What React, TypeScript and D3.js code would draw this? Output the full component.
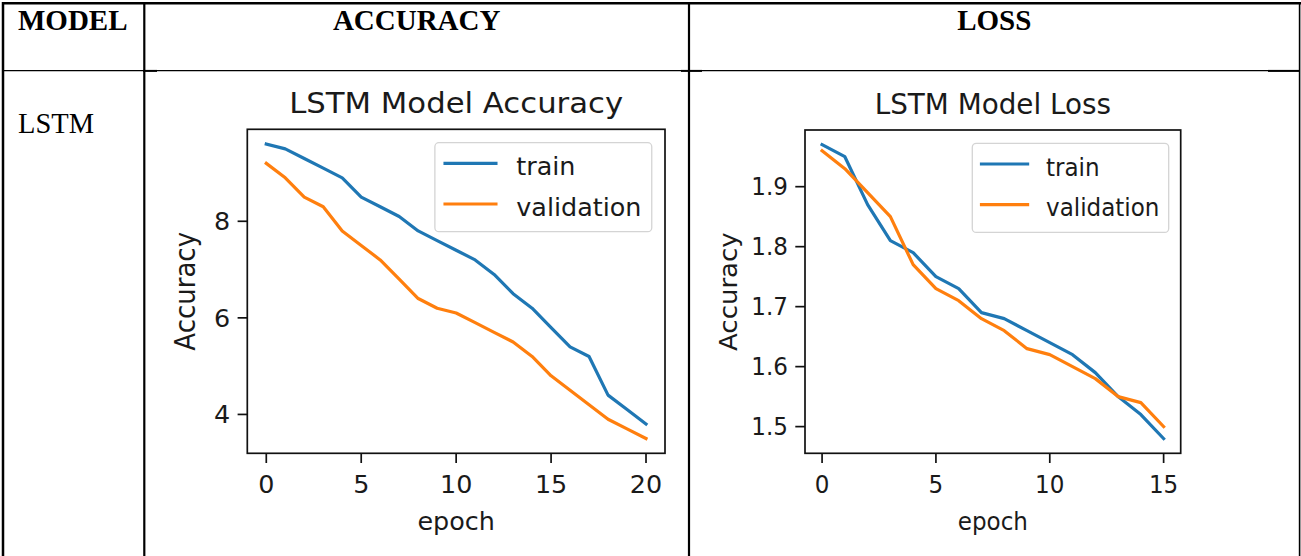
import React, { useEffect, useRef } from "react";
import * as d3 from "d3";

// table text
const headers = ["MODEL", "ACCURACY", "LOSS"];
const modelName = "LSTM";

// accuracy per epoch (index = epoch)
const accTrain = [9.6, 9.5, 9.3, 9.1, 8.9, 8.5, 8.3, 8.1, 7.8, 7.6, 7.4, 7.2, 6.9, 6.5, 6.2, 5.8, 5.4, 5.2, 4.4, 4.1, 3.8];
const accValidation = [9.2, 8.9, 8.5, 8.3, 7.8, 7.5, 7.2, 6.8, 6.4, 6.2, 6.1, 5.9, 5.7, 5.5, 5.2, 4.8, 4.5, 4.2, 3.9, 3.7, 3.5];

// loss per epoch
const lossTrain = [1.97, 1.95, 1.87, 1.81, 1.79, 1.75, 1.73, 1.69, 1.68, 1.66, 1.64, 1.62, 1.59, 1.55, 1.52, 1.48];
const lossValidation = [1.96, 1.93, 1.89, 1.85, 1.77, 1.73, 1.71, 1.68, 1.66, 1.63, 1.62, 1.6, 1.58, 1.55, 1.54, 1.5];

const accXTicks = [0, 5, 10, 15, 20];
const accYTicks = [4, 6, 8];
const lossXTicks = [0, 5, 10, 15];
const lossYTicks = [1.5, 1.6, 1.7, 1.8, 1.9];

const legendLabels = ["train", "validation"];
const seriesColors = ["#1f77b4", "#ff7f0e"];

const W = 1301;
const H = 556;
const FS = 24; // matplotlib "medium" text, in px
const TEXT = "#1a1a1a";

type Box = { left: number; right: number; top: number; bottom: number };
type Plot = {
  title: string;
  xlabel: string;
  ylabel: string;
  series: number[][];
  xTicks: number[];
  yTicks: number[];
  yFmt: (v: number) => string;
  box: Box;
  sx: number; // each picture was pasted with its own horizontal stretch
  ylabelOffset: number;
};

const plots: Plot[] = [
  {
    title: "LSTM Model Accuracy",
    xlabel: "epoch",
    ylabel: "Accuracy",
    series: [accTrain, accValidation],
    xTicks: accXTicks,
    yTicks: accYTicks,
    yFmt: d3.format("d"),
    box: { left: 247.3, right: 665, top: 129.3, bottom: 453.3 },
    sx: 1.06,
    ylabelOffset: 52
  },
  {
    title: "LSTM Model Loss",
    xlabel: "epoch",
    ylabel: "Accuracy",
    series: [lossTrain, lossValidation],
    xTicks: lossXTicks,
    yTicks: lossYTicks,
    yFmt: d3.format(".1f"),
    box: { left: 805, right: 1180.7, top: 130, bottom: 453.3 },
    sx: 0.96,
    ylabelOffset: 68
  }
];

function addText(g: any, x: number, y: number, s: string, size: number, anchor: string, sx: number, rotate = false) {
  return g
    .append("text")
    .attr("transform", `translate(${x},${y}) scale(${sx},1)${rotate ? " rotate(-90)" : ""}`)
    .attr("text-anchor", anchor)
    .attr("font-family", "'DejaVu Sans', sans-serif")
    .attr("font-size", size)
    .attr("fill", TEXT)
    .text(s);
}

function drawPlot(svg: any, p: Plot) {
  const g = svg.append("g");
  const { box, sx } = p;
  const n = p.series[0].length - 1;

  const x = d3
    .scaleLinear()
    .domain([-0.05 * n, n * 1.05])
    .range([box.left, box.right]);

  const [lo, hi] = d3.extent(p.series.flat()) as [number, number];
  const pad = (hi - lo) * 0.05;
  const y = d3
    .scaleLinear()
    .domain([lo - pad, hi + pad])
    .range([box.bottom, box.top]);

  // lines
  const line = d3
    .line<number>()
    .x((d, i) => x(i))
    .y(d => y(d));

  p.series.forEach((s, i) => {
    g.append("path")
      .datum(s)
      .attr("d", line)
      .attr("fill", "none")
      .attr("stroke", seriesColors[i])
      .attr("stroke-width", 3.2)
      .attr("stroke-linejoin", "round")
      .attr("stroke-linecap", "square");
  });

  // spines
  g.append("rect")
    .attr("x", box.left)
    .attr("y", box.top)
    .attr("width", box.right - box.left)
    .attr("height", box.bottom - box.top)
    .attr("fill", "none")
    .attr("stroke", "#111")
    .attr("stroke-width", 1.7);

  // x ticks
  p.xTicks.forEach(t => {
    g.append("line")
      .attr("x1", x(t))
      .attr("x2", x(t))
      .attr("y1", box.bottom)
      .attr("y2", box.bottom + 9.7)
      .attr("stroke", "#111")
      .attr("stroke-width", 1.7);
    addText(g, x(t), box.bottom + 39.4, String(t), FS, "middle", sx);
  });

  // y ticks
  p.yTicks.forEach(t => {
    g.append("line")
      .attr("x1", box.left - 9.7)
      .attr("x2", box.left)
      .attr("y1", y(t))
      .attr("y2", y(t))
      .attr("stroke", "#111")
      .attr("stroke-width", 1.7);
    addText(g, box.left - 17, y(t) + FS * 0.365, p.yFmt(t), FS, "end", sx);
  });

  const cx = (box.left + box.right) / 2;
  addText(g, cx, box.top - 16.5, p.title, 29, "middle", sx);
  addText(g, cx, box.bottom + 76.5, p.xlabel, FS, "middle", sx);
  addText(g, box.left - p.ylabelOffset, (box.top + box.bottom) / 2, p.ylabel, 26, "middle", sx, true);

  // legend, upper right
  const em = FS * sx;
  const lw = 8.525 * em;
  const lh = 89;
  const lx = box.right - 12.5 * sx - lw;
  const ly = box.top + 13.4;
  g.append("rect")
    .attr("x", lx)
    .attr("y", ly)
    .attr("width", lw)
    .attr("height", lh)
    .attr("rx", 4)
    .attr("fill", "#fff")
    .attr("fill-opacity", 0.8)
    .attr("stroke", "#d4d4d4")
    .attr("stroke-width", 1.3);

  legendLabels.forEach((lab, i) => {
    const ry = ly + 20.6 + i * 40.7;
    g.append("line")
      .attr("x1", lx + 0.4 * em)
      .attr("x2", lx + 2.4 * em)
      .attr("y1", ry)
      .attr("y2", ry)
      .attr("stroke", seriesColors[i])
      .attr("stroke-width", 3.2)
      .attr("stroke-linecap", "square");
    addText(g, lx + 3.2 * em, ry + 11.5, lab, FS, "start", sx);
  });
}

function drawTable(svg: any) {
  const g = svg.append("g").attr("stroke", "#000");
  const cols = [3, 144.3, 689, 1299.6];

  g.append("line").attr("x1", 2).attr("x2", 1301).attr("y1", 3.2).attr("y2", 3.2).attr("stroke-width", 2.5);
  g.append("line").attr("x1", 3).attr("x2", 3).attr("y1", 2).attr("y2", H).attr("stroke-width", 2.5);
  g.append("line").attr("x1", cols[3]).attr("x2", cols[3]).attr("y1", 2).attr("y2", H).attr("stroke-width", 1.6);
  [cols[1], cols[2]].forEach(c => {
    g.append("line").attr("x1", c).attr("x2", c).attr("y1", 2).attr("y2", H).attr("stroke-width", 2.2);
  });

  // header row bottom rule with its thicker stubs
  g.append("line").attr("x1", 3).attr("x2", 1300).attr("y1", 70.7).attr("y2", 70.7).attr("stroke-width", 1.3);
  [[143, 157], [681, 702], [1268, 1300]].forEach(([a, b]) => {
    g.append("line").attr("x1", a).attr("x2", b).attr("y1", 70.9).attr("y2", 70.9).attr("stroke-width", 2);
  });

  const serif = "'Liberation Serif', 'Times New Roman', serif";
  const centres = [18, (cols[1] + cols[2]) / 2, (cols[2] + cols[3]) / 2];
  headers.forEach((h, i) => {
    svg.append("text")
      .attr("x", centres[i])
      .attr("y", 29.5)
      .attr("text-anchor", i === 0 ? "start" : "middle")
      .attr("font-family", serif)
      .attr("font-weight", "bold")
      .attr("font-size", 29)
      .attr("fill", "#000")
      .text(h);
  });

  svg.append("text")
    .attr("x", 18)
    .attr("y", 133)
    .attr("font-family", serif)
    .attr("font-size", 28.5)
    .attr("fill", "#000")
    .text(modelName);
}

export default function App() {
  const ref = useRef<SVGSVGElement>(null);

  useEffect(() => {
    const svg = d3.select(ref.current);
    svg.selectAll("*").remove();
    drawTable(svg);
    plots.forEach(p => drawPlot(svg, p));
  }, []);

  return (
    <div style={{ position: "absolute", left: 0, top: 0 }}>
      <svg ref={ref} width={W} height={H} style={{ display: "block", background: "#fff" }} />
    </div>
  );
}
